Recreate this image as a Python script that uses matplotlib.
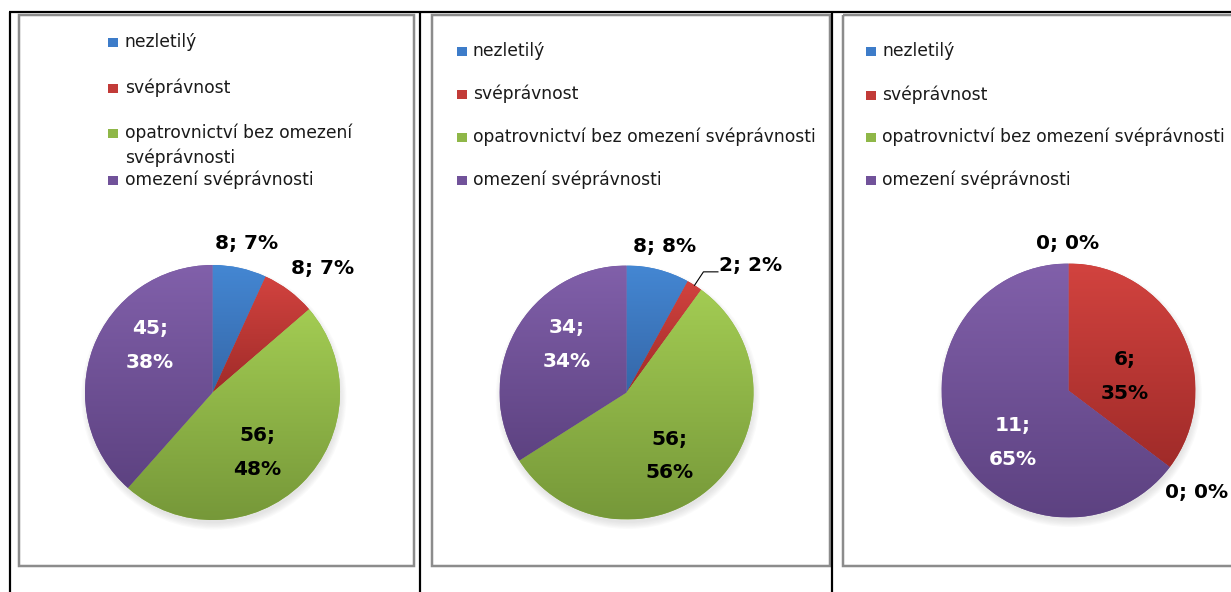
import textwrap
import numpy as np
import matplotlib.pyplot as plt
from matplotlib.patches import Rectangle, Circle
from matplotlib.colors import LinearSegmentedColormap

W, H = 1231, 592

categories = ["nezletilý", "svéprávnost",
              "opatrovnictví bez omezení svéprávnosti", "omezení svéprávnosti"]
counts_1 = [8, 8, 56, 45]
counts_2 = [8, 2, 56, 34]
counts_3 = [0, 6, 0, 11]

# light (top) / dark (bottom) of the Excel style gradient
light = ["#4487d3", "#d2433f", "#a3cc53", "#8160aa"]
dark = ["#3567a8", "#a02b29", "#769839", "#5d4281"]
flat = ["#3d7cc9", "#c23b38", "#8fb748", "#71529a"]

# layout of each panel, in pixels of the picture
panels = [
    dict(counts=counts_1, center=(212.5, 392.5), r=127.5,
         marker_x=108, text_x=125, rows=[42, 88, 133, 180], wrap=26,
         label_pos=[(0.27, 1.17), (0.86, 0.97), (0.35, -0.47), (-0.49, 0.37)],
         two_line=[False, False, True, True], leader=None),
    dict(counts=counts_2, center=(626.5, 392.5), r=127,
         marker_x=457, text_x=473, rows=[51, 94, 137, 180], wrap=60,
         label_pos=[(0.30, 1.15), (0.98, 1.00), (0.34, -0.50), (-0.47, 0.38)],
         two_line=[False, False, True, True], leader=1),
    dict(counts=counts_3, center=(1068.5, 390.5), r=127,
         marker_x=866, text_x=882, rows=[51, 95, 137, 180], wrap=60,
         label_pos=[(-0.01, 1.16), (0.44, 0.11), (1.01, -0.80), (-0.44, -0.41)],
         two_line=[False, True, False, True], leader=None),
]
label_colors = ["black", "black", "black", "white"]

fig = plt.figure(figsize=(W / 100, H / 100), dpi=100)
bg = fig.add_axes([0, 0, 1, 1])
bg.set_xlim(0, W)
bg.set_ylim(H, 0)
bg.axis("off")

px = 72 / 100  # one pixel in points

# table lines of the document
bg.plot([9, W], [12, 12], color="black", lw=2.2 * px, solid_capstyle="butt")
for x in [10, 420, 832]:
    bg.plot([x, x], [12, H], color="black", lw=2.2 * px, solid_capstyle="butt")

# chart area borders
for x0, x1 in [(19, 414), (432, 830), (843, 1245)]:
    bg.add_patch(Rectangle((x0, 15), x1 - x0, 551, fill=False,
                           edgecolor="#8c8c8c", lw=2.5 * px))

for p in panels:
    # legend
    for i, cat in enumerate(categories):
        y = p["rows"][i]
        bg.add_patch(Rectangle((p["marker_x"], y - 4.5), 10, 9,
                               facecolor=flat[i], edgecolor="none"))
        for k, line in enumerate(textwrap.wrap(cat, p["wrap"])):
            bg.text(p["text_x"], y + 25 * k, line, va="center", ha="left",
                    fontsize=12.3, family="DejaVu Sans", color="#1a1a1a")

    # pie
    cx, cy = p["center"]
    r = p["r"]
    ax = fig.add_axes([(cx - r) / W, 1 - (cy + r) / H, 2 * r / W, 2 * r / H])
    ax.axis("off")

    # soft shadow below the pie
    for k in range(6):
        ax.add_patch(Circle((0.01, -0.035), 0.99 + 0.01 * k, clip_on=False,
                            color="#808080", alpha=0.035, lw=0, zorder=0))

    counts = p["counts"]
    wedges, _ = ax.pie(counts, colors=flat, startangle=90, counterclock=False,
                       radius=1, wedgeprops=dict(lw=0))
    for i, w in enumerate(wedges):
        w.set_zorder(1)
        if counts[i] == 0:
            continue
        ext = w.get_path().get_extents()
        cmap = LinearSegmentedColormap.from_list("g", [dark[i], light[i]])
        grad = np.linspace(0, 1, 256).reshape(-1, 1)
        im = ax.imshow(grad, cmap=cmap, origin="lower", aspect="auto",
                       extent=[ext.x0, ext.x1, ext.y0, ext.y1], zorder=2)
        im.set_clip_path(w)
    ax.set_xlim(-1, 1)
    ax.set_ylim(-1, 1)

    total = sum(counts)
    for i, v in enumerate(counts):
        pct = round(100 * v / total)
        sep = ";\n" if p["two_line"][i] else "; "
        lx, ly = p["label_pos"][i]
        ax.text(lx, ly, f"{v}{sep}{pct}%", ha="center", va="center",
                fontsize=14.5, fontweight="bold", family="DejaVu Sans",
                color=label_colors[i], linespacing=2.0, zorder=5)

    if p["leader"] is not None:
        j = p["leader"]
        mid = np.deg2rad(90 - 360 * (sum(counts[:j]) + counts[j] / 2) / total)
        sx, sy = np.cos(mid), np.sin(mid)
        lx, ly = p["label_pos"][j]
        ex = lx - 0.26
        ax.plot([sx, sx + 0.07, ex], [sy, ly - 0.05, ly - 0.05],
                color="black", lw=0.8, clip_on=False, zorder=5)

fig.savefig("out.png", dpi=100)
